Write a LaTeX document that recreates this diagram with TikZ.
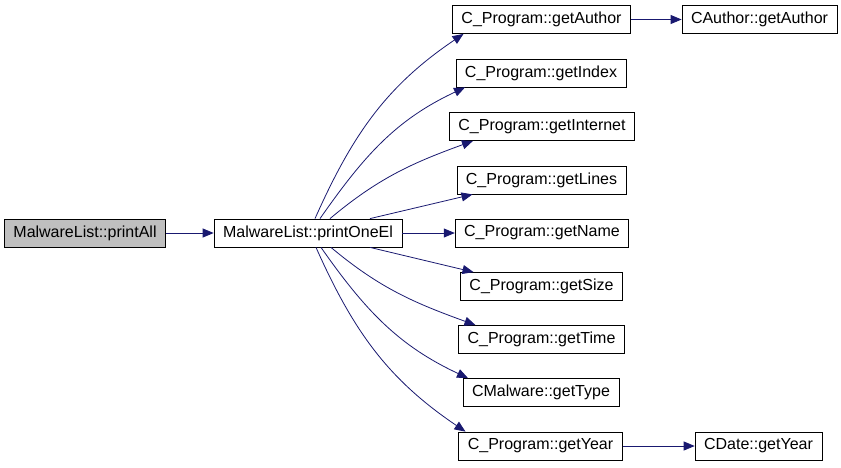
\documentclass[tikz,border=0pt]{standalone}
\usepackage{fontspec}
\setmainfont{Liberation Sans}
\usetikzlibrary{arrows.meta}
\definecolor{callblue}{HTML}{191970}

\begin{document}
\begin{tikzpicture}[x=1pt, y=-1pt,
    fn/.style={draw, line width=0.8pt, minimum height=28pt, inner xsep=9pt, inner ysep=0pt, font=\fontsize{16}{18}\selectfont},
    call/.style={callblue, line width=0.8pt, -{Triangle[length=11pt,width=9pt]}}]
    \useasboundingbox (0,0) rectangle (841,467);
    % caller chain
    \node[fn, fill=black!25] (printall) at (85,233) {MalwareList::printAll};
    \node[fn] (oneel) at (308,233) {MalwareList::printOneEl};
    % callees
    \node[fn] (author) at (541.5,19.5) {C\_Program::getAuthor};
    \node[fn] (cauthor) at (759.5,19.5) {CAuthor::getAuthor};
    \node[fn] (index) at (541,73) {C\_Program::getIndex};
    \node[fn] (internet) at (542,126.5) {C\_Program::getInternet};
    \node[fn] (lines) at (541.5,180) {C\_Program::getLines};
    \node[fn] (name) at (542,233) {C\_Program::getName};
    \node[fn] (size) at (541.5,286.5) {C\_Program::getSize};
    \node[fn] (time) at (541.5,339.5) {C\_Program::getTime};
    \node[fn] (type) at (541,392.5) {CMalware::getType};
    \node[fn] (year) at (540.5,446) {C\_Program::getYear};
    \node[fn] (cdate) at (758.5,446) {CDate::getYear};
    % straight calls
    \draw[call] (printall) -- (oneel);
    \draw[call] (oneel) -- (name);
    \draw[call] (author) -- (cauthor);
    \draw[call] (year) -- (cdate);
    % curved calls
    \draw[call] ([xshift=7pt]oneel.north) to[out=66, in=214] ([xshift=-78pt]author.south);
    \draw[call] ([xshift=12pt]oneel.north) to[out=55, in=205] ([xshift=-76pt]index.south);
    \draw[call] ([xshift=22pt]oneel.north) to[out=40, in=200] ([xshift=-69pt]internet.south);
    \draw[call] ([xshift=62pt]oneel.north) -- ([xshift=-69pt]lines.south);
    \draw[call] ([xshift=62pt]oneel.south) -- ([xshift=-68pt]size.north);
    \draw[call] ([xshift=23pt]oneel.south) to[out=-40, in=160] ([xshift=-66pt]time.north);
    \draw[call] ([xshift=13pt]oneel.south) to[out=-55, in=155] ([xshift=-73pt]type.north);
    \draw[call] ([xshift=8pt]oneel.south) to[out=-66, in=146] ([xshift=-75pt]year.north);
\end{tikzpicture}
\end{document}
